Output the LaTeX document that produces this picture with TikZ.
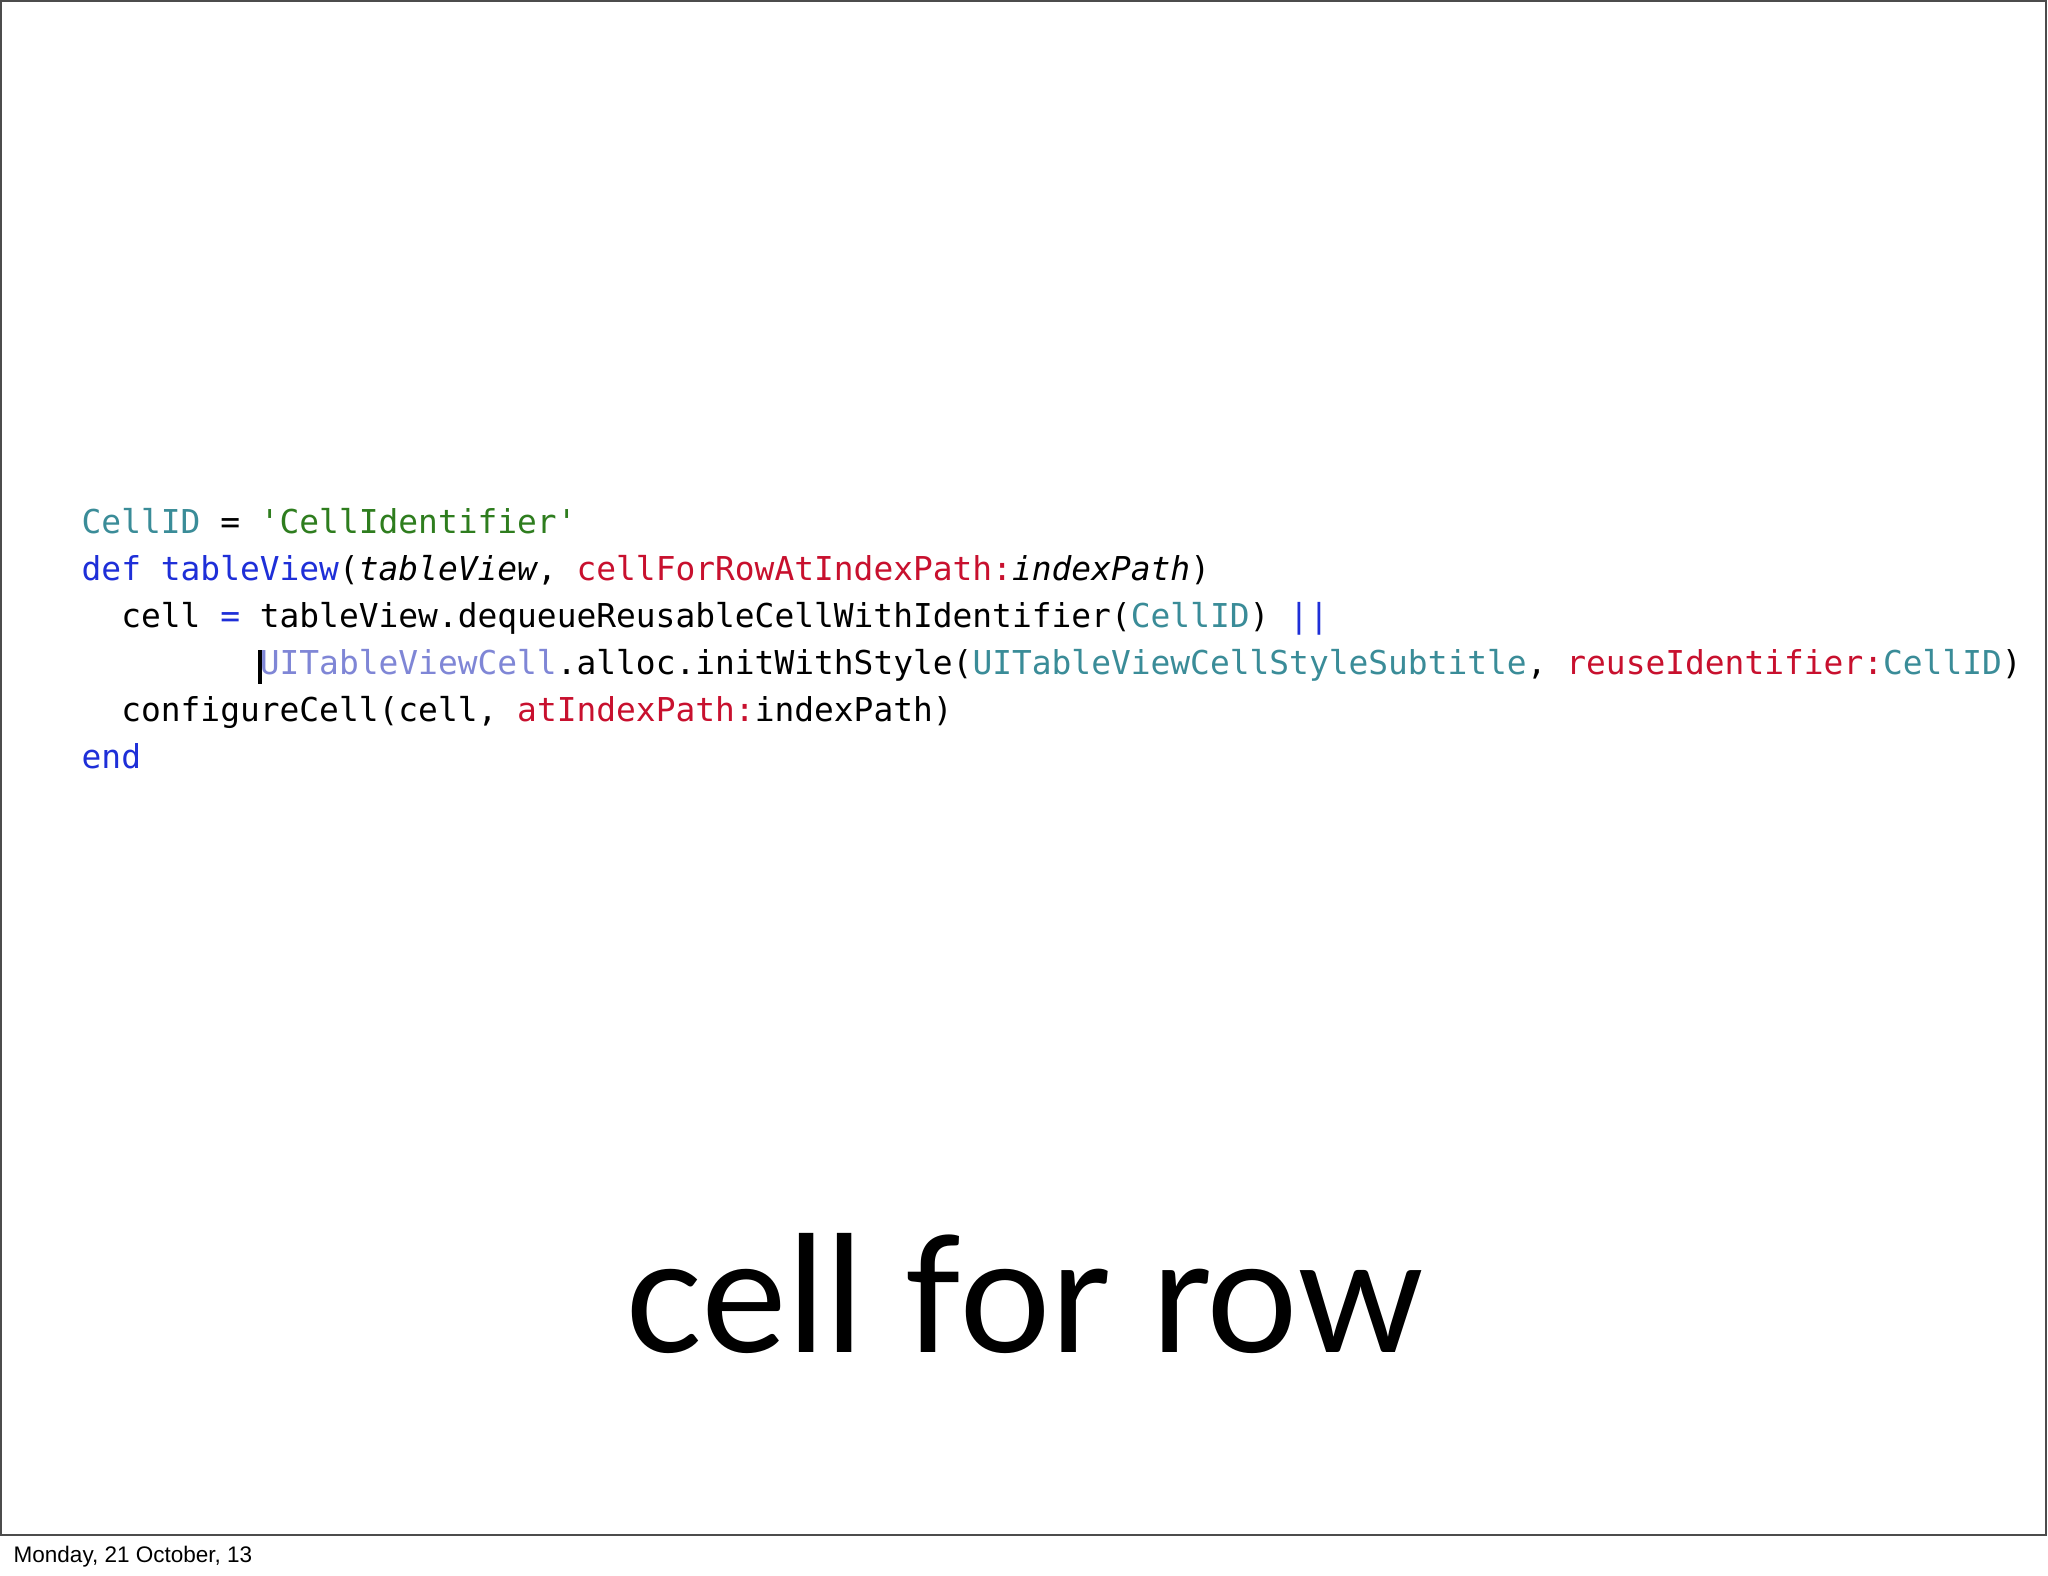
\documentclass[tikz,border=0pt]{standalone}
\usepackage{fontspec}
\setmainfont{Lato}
\newfontfamily\codefont{DejaVu Sans Mono}
\newfontfamily\footfont{Liberation Sans}
\definecolor{cteal}{HTML}{3A8C98}
\definecolor{cgreen}{HTML}{2E7D1E}
\definecolor{cblue}{HTML}{1E2FD8}
\definecolor{cred}{HTML}{C8102E}
\definecolor{clight}{HTML}{7F86D6}
\begin{document}
\begin{tikzpicture}[x=0.01cm,y=-0.01cm,
  codeline/.style={anchor=base west,inner sep=0,font=\codefont\fontsize{9.35pt}{11pt}\selectfont}]
\useasboundingbox (0,0) rectangle (2048,1576);
\fill[white] (0,0) rectangle (2048,1576);
\draw[line width=0.6pt,black!70] (1,1) rectangle (2046,1535);
\node[codeline] (l1) at (81,533) {\textcolor{cteal}{CellID} = \textcolor{cgreen}{'CellIdentifier'}};
\node[codeline] (l2) at (81,580) {\textcolor{cblue}{def} \textcolor{cblue}{tableView}(\textit{tableView}, \textcolor{cred}{cellForRowAtIndexPath:}\textit{indexPath})};
\node[codeline] (l3) at (81,627) {\ \ cell \textcolor{cblue}{=} tableView.dequeueReusableCellWithIdentifier(\textcolor{cteal}{CellID}) \textcolor{cblue}{||}};
\node[codeline] (l4) at (81,674) {\ \ \ \ \ \ \ \ \ \textcolor{clight}{UITableViewCell}.alloc.initWithStyle(\textcolor{cteal}{UITableViewCellStyleSubtitle}, \textcolor{cred}{reuseIdentifier:}\textcolor{cteal}{CellID})};
\node[codeline] (l5) at (81,721) {\ \ configureCell(cell, \textcolor{cred}{atIndexPath:}indexPath)};
\node[codeline] (l6) at (81,768) {\textcolor{cblue}{end}};
\draw[line width=1.2pt] (260,650) -- (260,684);
\node[anchor=base,inner sep=0,font=\fontsize{46pt}{50pt}\selectfont] (title) at (1025,1352) {cell for row};
\node[anchor=base west,inner sep=0,font=\footfont\fontsize{6.4pt}{8pt}\selectfont] (foot) at (13,1562) {Monday, 21 October, 13};
\end{tikzpicture}
\end{document}
